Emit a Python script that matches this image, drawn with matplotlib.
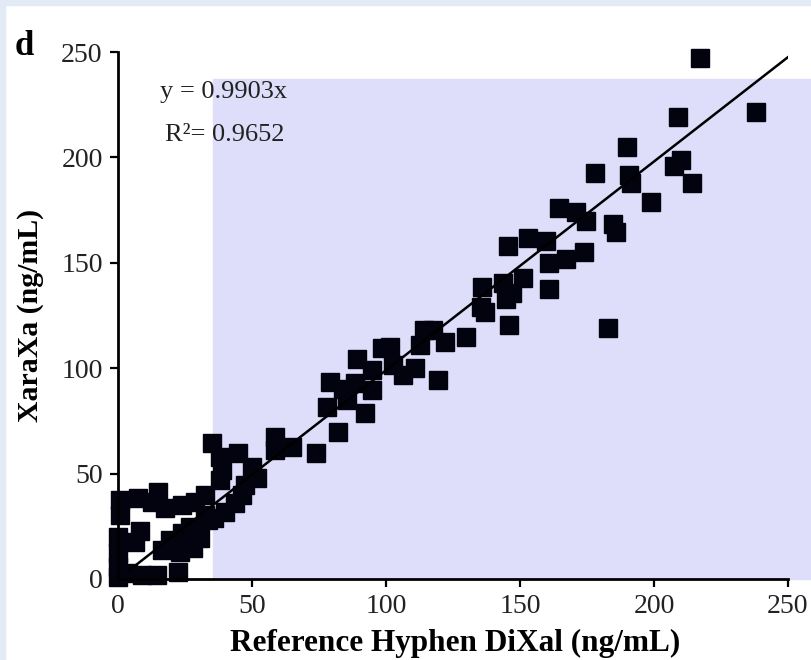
import numpy as np
import matplotlib.pyplot as plt
from matplotlib.patches import Rectangle

# reference (x) vs XaraXa (y)
ref = [217, 238, 209, 190, 178, 190.7, 191.4, 207.5, 210, 214, 199,
       164.6, 171, 174.6, 184.7, 186, 145.5, 153, 159.7, 160.8, 167, 173.9,
       160.8, 136, 143.7, 151, 147, 144.8, 137, 135.4, 146, 182.8,
       130, 122, 117.5, 114, 112.7, 119.4, 110.8, 106.3, 102.6, 101.5, 98.5,
       94.8, 94.8, 89, 88.4, 84, 85.4, 79, 78, 92, 82, 74, 65, 58.6, 58.6,
       35, 38, 44.8, 50, 52, 38.8, 38, 47.4, 46.3, 43.7, 40, 36,
       32.5, 28.7, 24, 15, 17.5, 7.5, 0.7, 0.7, 12.7,
       8.2, 6.3, 0, 0, 0, 0, 3.7, 9, 14.6, 22.4,
       16.4, 19.4, 24, 23, 28, 28.7, 26.9, 30.6, 32.5, 33.6]
xara = [247, 221.5, 219, 205, 192.6, 191.6, 188, 196, 199, 188, 179,
        176, 174, 170, 168.4, 164.6, 158, 161.8, 160.3, 150, 152, 155,
        137.6, 138.5, 140.4, 142.8, 135.6, 133, 126.6, 129, 120.5, 119,
        114.8, 112.4, 118, 118, 111, 94.4, 100, 96.8, 101.5, 110, 109.6,
        89.7, 99, 104.5, 93, 90, 85, 93.5, 81.6, 78.7, 69.7, 59.6, 62.6, 61, 67.4,
        64.5, 58, 59.8, 53, 48, 51.7, 47, 44.6, 40, 36, 31.8, 29,
        39.8, 36.5, 35, 41.3, 33.7, 38.4, 37.5, 30.4, 36.5,
        23, 17.5, 20, 12.3, 5.7, 1, 2.8, 2, 2, 3.3,
        13.8, 18.5, 21.8, 12.8, 14.7, 20.9, 24.7, 19.4, 30.4, 28]

slope = 0.9903
r2 = 0.9652
fit_x = np.array([4, 250])

plt.rcParams['font.family'] = ['Liberation Serif', 'DejaVu Serif']

fig = plt.figure(figsize=(8.12, 6.6), dpi=100)
fig.patch.set_facecolor('white')
# thin light blue frame at top and left
fig.patches.append(Rectangle((0, 655/660), 1, 5/660, transform=fig.transFigure,
                             color='#e2eaf5', zorder=0))
fig.patches.append(Rectangle((0, 0), 5/812, 1, transform=fig.transFigure,
                             color='#e2eaf5', zorder=0))

ax = fig.add_axes([118/812, 1 - 579/660, 670/812, 527/660])
ax.set_facecolor('none')

# shaded region
ax.add_patch(Rectangle((35.4, 0), 230, 237, color='#dedefa', zorder=0, clip_on=False))

ax.plot(ref, xara, 's', color='#03030f', markersize=12.8, clip_on=False, zorder=3)
ax.plot(fit_x, slope * fit_x, '-', color='black', linewidth=1.8, zorder=4)

ax.set_xlim(0, 250)
ax.set_ylim(0, 250)
ax.set_xticks([0, 50, 100, 150, 200, 250])
ax.set_yticks([0, 50, 100, 150, 200, 250])

for s in ['top', 'right']:
    ax.spines[s].set_visible(False)
for s in ['left', 'bottom']:
    ax.spines[s].set_linewidth(2)
    ax.spines[s].set_zorder(5)
ax.tick_params(direction='out', length=6, width=1.6, labelsize=20,
               labelcolor='#222222', pad=5)

ax.set_xlabel('Reference Hyphen DiXal (ng/mL)', fontsize=22.5, fontweight='bold')
ax.set_ylabel('XaraXa (ng/mL)', fontsize=21.5, fontweight='bold')
ax.xaxis.set_label_coords(0.503, -0.095)
ax.yaxis.set_label_coords(-0.11, 0.5)

ax.text(15.7, 228, 'y = %.4fx' % slope, fontsize=19, color='#222222')
ax.text(17.5, 208, 'R²= %.4f' % r2, fontsize=19, color='#222222')

fig.text(15/812, 1 - 55/660, 'd', fontsize=25, fontweight='bold')

fig.savefig('out.png', dpi=100)
